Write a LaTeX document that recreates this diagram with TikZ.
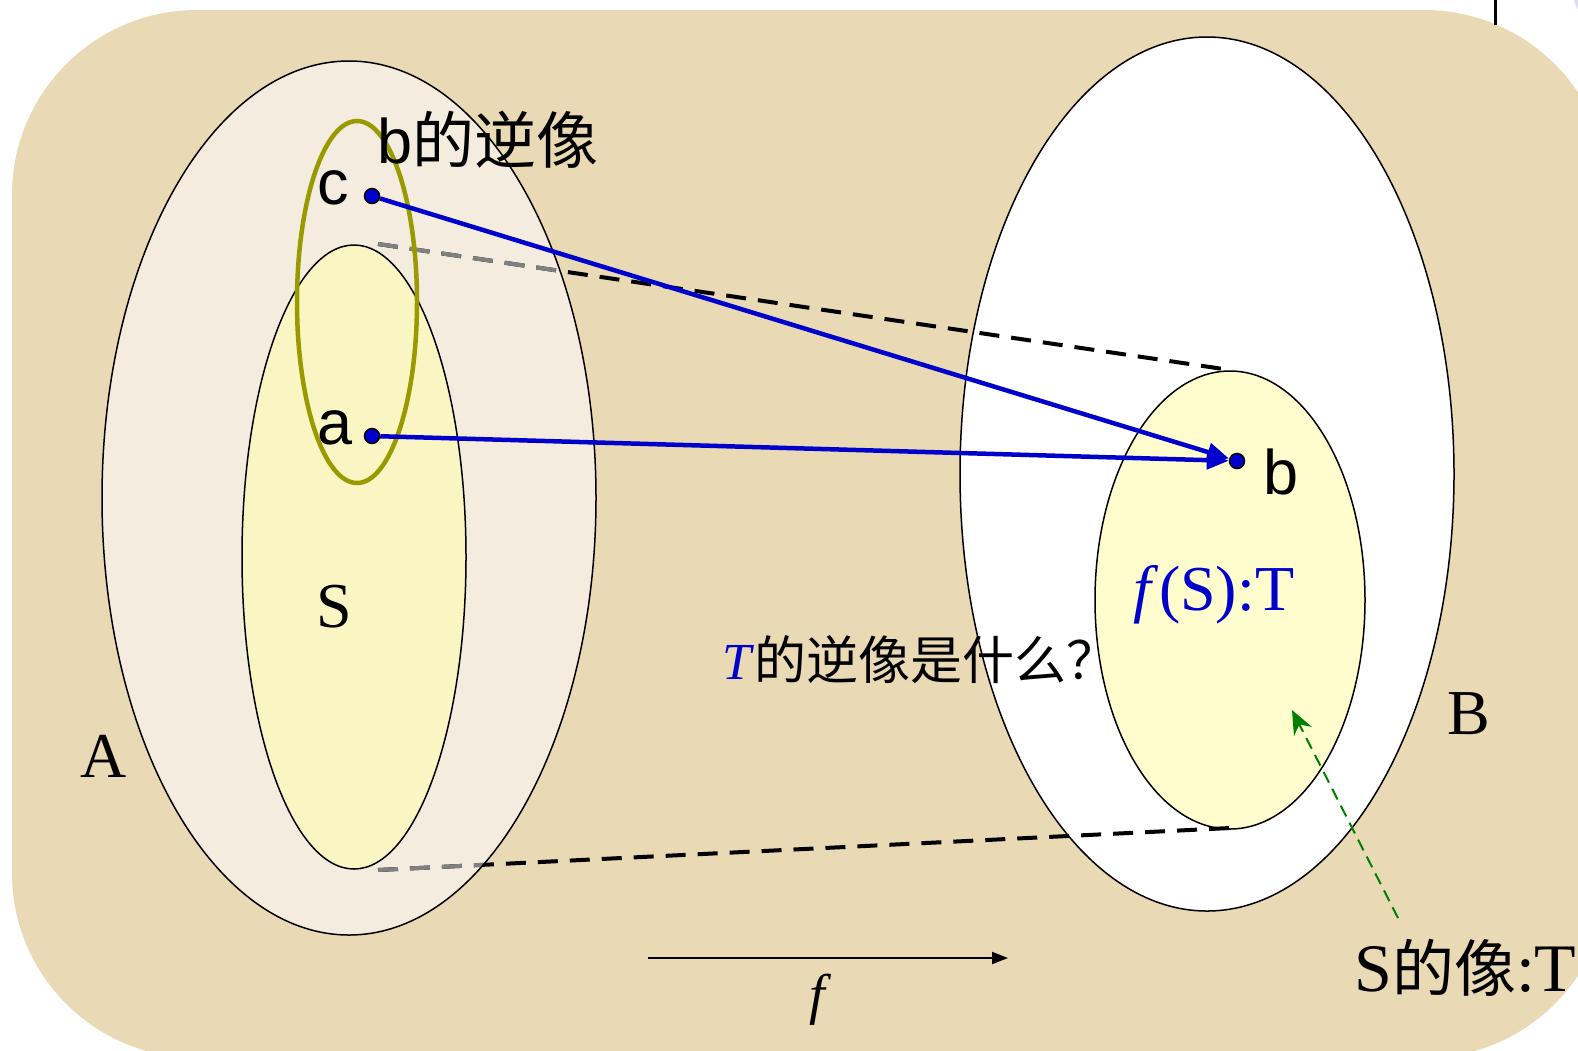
\documentclass[tikz,border=0pt]{standalone}
\usepackage{fontspec}
\setmainfont{Liberation Serif}
\setsansfont{Liberation Sans}
\newfontfamily\cjk{Noto Sans CJK SC}
\usetikzlibrary{arrows.meta}
\definecolor{bgtan}{RGB}{233,217,180}
\definecolor{creamA}{RGB}{244,237,223}
\definecolor{yellS}{RGB}{250,246,196}
\definecolor{yellT}{RGB}{255,253,206}
\definecolor{fblue}{RGB}{0,0,204}
\definecolor{olivec}{RGB}{153,153,0}
\definecolor{dgreen}{RGB}{0,128,0}
\definecolor{lavend}{RGB}{222,222,245}
\tikzset{
  setline/.style={draw=black, line width=1.5pt},
  dotnode/.style={circle, fill=fblue, draw=black, line width=1.5pt, minimum size=15pt, inner sep=0pt},
  maparrow/.style={draw=fblue, line width=4.5pt, -{Triangle[length=22pt,width=18pt]}},
  imgdash/.style={line width=4pt, dash pattern=on 20pt off 12pt},
  sanslbl/.style={font=\sffamily\fontsize{63}{68}\selectfont, inner sep=0pt},
  seriflbl/.style={font=\fontsize{64}{70}\selectfont, inner sep=0pt}
}
\begin{document}
\begin{tikzpicture}[x=1pt,y=-1pt]
\useasboundingbox (0,0) rectangle (1578,1050);
\clip (0,0) rectangle (1578,1050);
% background
\fill[bgtan, rounded corners=185pt] (12,10) rectangle (1609,1058);
\fill[lavend] (1592,-2) circle[radius=18pt];
\draw[line width=3pt] (1495,0) -- (1495,25);
% sets
\path[setline, fill=creamA] (349,498) ellipse[x radius=247pt, y radius=437pt];
\path[setline, fill=yellS] (354,557) ellipse[x radius=112pt, y radius=312pt];
\path[setline, fill=white] (1207,474) ellipse[x radius=247pt, y radius=437pt];
\path[setline, fill=yellT] (1230,600) ellipse[x radius=135pt, y radius=229pt];
% image boundary dashed lines
\coordinate (s1) at (378,244);
\coordinate (t1) at (1230,370);
\coordinate (s2) at (378,870);
\coordinate (t2) at (1230,828);
\draw[imgdash] (s1) -- (t1);
\draw[imgdash] (s2) -- (t2);
\begin{scope}
  \clip (349,498) ellipse[x radius=246pt, y radius=436pt];
  \draw[imgdash, gray] (s1) -- (t1);
  \draw[imgdash, gray] (s2) -- (t2);
\end{scope}
% preimage of b
\draw[olivec, line width=4.5pt] (357,302) ellipse[x radius=60pt, y radius=181pt];
% points
\node[dotnode] (c) at (372,196) {};
\node[dotnode] (a) at (372,436) {};
\node[dotnode] (b) at (1237,461) {};
\draw[maparrow] (c) -- (b);
\draw[maparrow] (a) -- (b);
% labels
\node[sanslbl] (lc) at (333,188) {c};
\node[sanslbl] (la) at (335,428) {a};
\node[sanslbl] (lb) at (1281,472) {b};
\node[sanslbl, anchor=west] (binv) at (377,140) {b{\cjk\fontsize{62}{68}\selectfont 的逆像}};
\node[seriflbl] (lS) at (334,607) {S};
\node[seriflbl] (lA) at (104,756) {A};
\node[seriflbl] (lB) at (1469,714) {B};
\node[seriflbl, text=fblue] (fST) at (1214,595) {\textit{f}(S):T};
\node[anchor=west, inner sep=0pt, font=\fontsize{52}{58}\selectfont] (q) at (722,660) {{\color{fblue}\textit{T}}{\cjk 的逆像是什么？}};
\node[anchor=west, inner sep=0pt, font=\fontsize{68}{74}\selectfont] (img) at (1354,968) {S{\cjk\fontsize{62}{68}\selectfont 的像}:T};
% green pointer
\coordinate (gs) at (1398,918);
\coordinate (ge) at (1292,710);
\draw[dgreen, line width=2pt, dash pattern=on 12pt off 7pt, -{Stealth[length=24pt,width=20pt]}] (gs) -- (ge);
% mapping f
\coordinate (fa) at (648,958);
\coordinate (fb) at (1008,958);
\draw[line width=2pt, -{Triangle[length=16pt,width=12pt]}] (fa) -- (fb);
\node[inner sep=0pt, font=\fontsize{56}{62}\selectfont] (lf) at (820,1000) {\textit{f}};
\end{tikzpicture}
\end{document}
